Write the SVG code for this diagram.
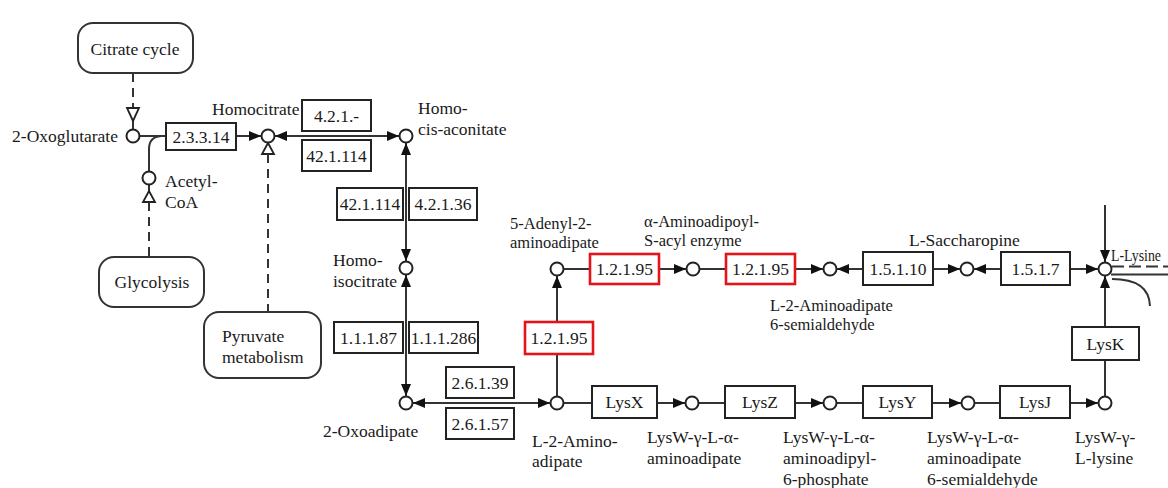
<svg xmlns="http://www.w3.org/2000/svg" width="1168" height="488" viewBox="0 0 1168 488" font-family="'Liberation Serif', 'Times New Roman', serif">
<style>
text{font-family:"Liberation Serif","Times New Roman","DejaVu Serif",serif;font-size:17.5px;fill:#1a1a1a}
.c text{text-anchor:middle}
.sm{font-size:16.5px}
.box{fill:#fff;stroke:#222;stroke-width:2}
.red{fill:#fff;stroke:#e3151b;stroke-width:2.6}
.map{fill:#fff;stroke:#333;stroke-width:2}
.cpd{fill:#fff;stroke:#222;stroke-width:2}
.ln{fill:none;stroke:#333;stroke-width:2}
.ds{fill:none;stroke:#333;stroke-width:2;stroke-dasharray:9 6}
.ho{fill:#fff;stroke:#222;stroke-width:1.8}
</style>
<defs>
<marker id="ar" viewBox="0 0 12 10" refX="12" refY="5" markerWidth="12" markerHeight="10" markerUnits="userSpaceOnUse" orient="auto-start-reverse">
<path d="M0,0 L12,5 L0,10 z" fill="#111"/>
</marker>
</defs>
<rect width="1168" height="488" fill="#fff"/>

<g id="connectors">
<path class="ds" d="M133,73 V108"/>
<path class="ln" d="M133,121 V129"/>
<polygon class="ho" points="127,108 139,108 133,121"/>
<path class="ln" d="M140,136 H166"/>
<path class="ln" d="M149,171 V149 Q149,137 161,136"/>
<path class="ln" d="M149,185 V192"/>
<polygon class="ho" points="149,191 143,202 155,202"/>
<path class="ds" d="M149,202 V257"/>
<path class="ln" d="M236,136 H261" marker-end="url(#ar)"/>
<polygon class="ho" points="268,143 262,154 274,154"/>
<path class="ds" d="M268,154 V312"/>
<path class="ln" d="M275,136 H399" marker-start="url(#ar)" marker-end="url(#ar)"/>
<path class="ln" d="M406,143 V261" marker-start="url(#ar)" marker-end="url(#ar)"/>
<path class="ln" d="M406,275 V396" marker-start="url(#ar)" marker-end="url(#ar)"/>
<path class="ln" d="M413,403 H550" marker-start="url(#ar)" marker-end="url(#ar)"/>
<path class="ln" d="M557,396 V276" marker-end="url(#ar)"/>
<path class="ln" d="M564,269 H590"/>
<path class="ln" d="M659,269 H686" marker-end="url(#ar)"/>
<path class="ln" d="M700,269 H726"/>
<path class="ln" d="M795,269 H823" marker-end="url(#ar)"/>
<path class="ln" d="M863,269 H837" marker-end="url(#ar)"/>
<path class="ln" d="M933,269 H960" marker-end="url(#ar)"/>
<path class="ln" d="M1001,269 H974" marker-end="url(#ar)"/>
<path class="ln" d="M1070,269 H1098" marker-end="url(#ar)"/>
<path class="ln" d="M1105,205 V262" marker-end="url(#ar)"/>
<path class="ln" d="M1105,327 V276" marker-end="url(#ar)"/>
<path class="ln" d="M1105,396 V360"/>
<path class="ln" d="M1112,266.5 H1168" stroke-dasharray="12 5"/>
<path class="ln" d="M1111,274.5 H1168"/>
<path class="ln" d="M1112,279 Q1149,279 1150,306"/>
<path class="ln" d="M564,403 H592"/>
<path class="ln" d="M657,403 H685" marker-end="url(#ar)"/>
<path class="ln" d="M699,403 H725"/>
<path class="ln" d="M795,403 H823" marker-end="url(#ar)"/>
<path class="ln" d="M837,403 H863"/>
<path class="ln" d="M932,403 H961" marker-end="url(#ar)"/>
<path class="ln" d="M975,403 H1000"/>
<path class="ln" d="M1070,403 H1098" marker-end="url(#ar)"/>
</g>

<g id="map-citrate" class="c"><rect class="map" x="78" y="23" width="115" height="50" rx="15"/><text x="135" y="55">Citrate cycle</text></g>
<g id="map-glycolysis" class="c"><rect class="map" x="99" y="257" width="105" height="50" rx="15"/><text x="152" y="288">Glycolysis</text></g>
<g id="map-pyruvate"><rect class="map" x="204" y="312" width="117" height="66" rx="15"/><text x="222" y="342">Pyruvate</text><text x="222" y="363">metabolism</text></g>

<g id="e-2.3.3.14" class="c"><rect class="box" x="166" y="123" width="70" height="27"/><text x="201" y="143">2.3.3.14</text></g>
<g id="e-4.2.1.-" class="c"><rect class="box" x="302" y="100" width="69" height="31"/><text x="336.5" y="122">4.2.1.-</text></g>
<g id="e-42.1.114a" class="c"><rect class="box" x="302" y="140" width="69" height="31"/><text x="336.5" y="162">42.1.114</text></g>
<g id="e-42.1.114b" class="c"><rect class="box" x="337" y="188" width="66" height="32"/><text x="370" y="210">42.1.114</text></g>
<g id="e-4.2.1.36" class="c"><rect class="box" x="409" y="188" width="68" height="32"/><text x="443" y="210">4.2.1.36</text></g>
<g id="e-1.1.1.87" class="c"><rect class="box" x="334" y="322" width="69" height="31"/><text x="368.5" y="344">1.1.1.87</text></g>
<g id="e-1.1.1.286" class="c"><rect class="box" x="409" y="322" width="69" height="31"/><text x="443.5" y="344">1.1.1.286</text></g>
<g id="e-2.6.1.39" class="c"><rect class="box" x="446" y="367" width="68" height="31"/><text x="480" y="389">2.6.1.39</text></g>
<g id="e-2.6.1.57" class="c"><rect class="box" x="446" y="408" width="68" height="31"/><text x="480" y="430">2.6.1.57</text></g>
<g id="e-1.2.1.95c" class="c"><rect class="red" x="525" y="322" width="68" height="32"/><text x="559" y="344">1.2.1.95</text></g>
<g id="e-1.2.1.95a" class="c"><rect class="red" x="590" y="254" width="69" height="30"/><text x="624.5" y="275">1.2.1.95</text></g>
<g id="e-1.2.1.95b" class="c"><rect class="red" x="726" y="254" width="69" height="30"/><text x="760.5" y="275">1.2.1.95</text></g>
<g id="e-1.5.1.10" class="c"><rect class="box" x="863" y="252" width="70" height="33"/><text x="898" y="275">1.5.1.10</text></g>
<g id="e-1.5.1.7" class="c"><rect class="box" x="1001" y="252" width="69" height="33"/><text x="1035.5" y="275">1.5.1.7</text></g>
<g id="e-LysK" class="c"><rect class="box" x="1072" y="327" width="67" height="33"/><text x="1105.5" y="350">LysK</text></g>
<g id="e-LysX" class="c"><rect class="box" x="592" y="386" width="65" height="32"/><text x="624.5" y="408">LysX</text></g>
<g id="e-LysZ" class="c"><rect class="box" x="725" y="386" width="70" height="32"/><text x="760" y="408">LysZ</text></g>
<g id="e-LysY" class="c"><rect class="box" x="863" y="386" width="69" height="32"/><text x="897.5" y="408">LysY</text></g>
<g id="e-LysJ" class="c"><rect class="box" x="1000" y="386" width="70" height="32"/><text x="1035" y="408">LysJ</text></g>

<g id="c-oxoglutarate"><circle class="cpd" cx="133" cy="136" r="6.5"/><text x="118" y="142" text-anchor="end">2-Oxoglutarate</text></g>
<g id="c-homocitrate"><circle class="cpd" cx="268" cy="136" r="6.5"/><text x="212" y="115">Homocitrate</text></g>
<g id="c-acetylcoa"><circle class="cpd" cx="149" cy="178" r="6.5"/><text x="165" y="187">Acetyl-</text><text x="165" y="208">CoA</text></g>
<g id="c-homocisaconitate"><circle class="cpd" cx="406" cy="136" r="6.5"/><text x="418" y="114">Homo-</text><text x="418" y="135">cis-aconitate</text></g>
<g id="c-homoisocitrate"><circle class="cpd" cx="406" cy="268" r="6.5"/><text x="333" y="266">Homo-</text><text x="333" y="287">isocitrate</text></g>
<g id="c-oxoadipate"><circle class="cpd" cx="406" cy="403" r="6.5"/><text x="323" y="437">2-Oxoadipate</text></g>
<g id="c-aminoadipate"><circle class="cpd" cx="557" cy="403" r="6.5"/><text x="532" y="447">L-2-Amino-</text><text x="532" y="467">adipate</text></g>
<g id="c-adenyl"><circle class="cpd" cx="557" cy="269" r="6.5"/><text class="sm" x="510" y="229">5-Adenyl-2-</text><text class="sm" x="510" y="248">aminoadipate</text></g>
<g id="c-acylenzyme"><circle class="cpd" cx="693" cy="269" r="6.5"/><text class="sm" x="644" y="227">α-Aminoadipoyl-</text><text class="sm" x="644" y="246">S-acyl enzyme</text></g>
<g id="c-semialdehyde"><circle class="cpd" cx="830" cy="269" r="6.5"/><text class="sm" x="770" y="311">L-2-Aminoadipate</text><text class="sm" x="770" y="330">6-semialdehyde</text></g>
<g id="c-saccharopine"><circle class="cpd" cx="967" cy="269" r="6.5"/><text x="909" y="246">L-Saccharopine</text></g>
<g id="c-lysine"><circle class="cpd" cx="1105" cy="269" r="6.5"/><text x="1111" y="261" font-size="16" textLength="50" lengthAdjust="spacingAndGlyphs" style="font-size:16px">L-Lysine</text></g>
<g id="c-lysw1"><circle class="cpd" cx="692" cy="403" r="6.5"/><text x="647" y="443">LysW-γ-L-α-</text><text x="647" y="464">aminoadipate</text></g>
<g id="c-lysw2"><circle class="cpd" cx="830" cy="403" r="6.5"/><text x="783" y="443">LysW-γ-L-α-</text><text x="783" y="464">aminoadipyl-</text><text x="783" y="485">6-phosphate</text></g>
<g id="c-lysw3"><circle class="cpd" cx="968" cy="403" r="6.5"/><text x="927" y="443">LysW-γ-L-α-</text><text x="927" y="464">aminoadipate</text><text x="927" y="485">6-semialdehyde</text></g>
<g id="c-lysw4"><circle class="cpd" cx="1105" cy="403" r="6.5"/><text x="1075" y="443">LysW-γ-</text><text x="1075" y="464">L-lysine</text></g>
</svg>
